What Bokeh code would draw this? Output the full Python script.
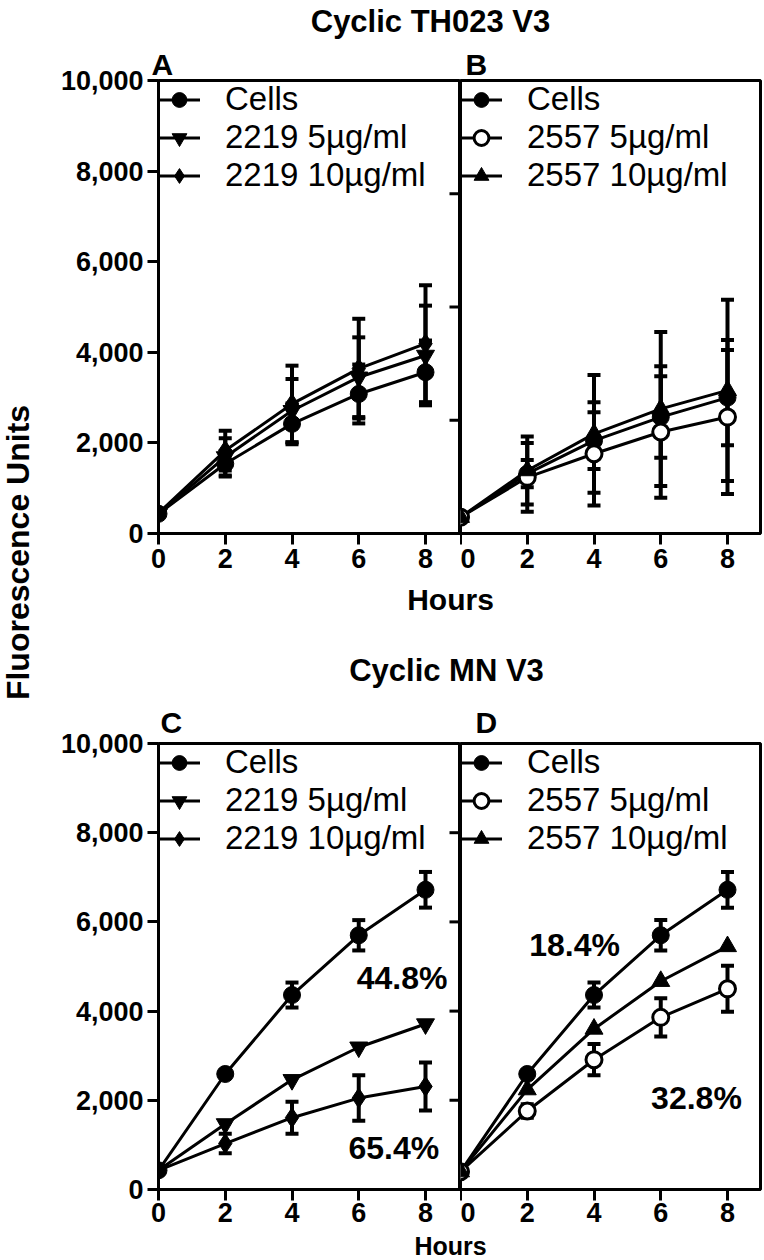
import math
from bokeh.plotting import figure
from bokeh.models import (Range1d, FixedTicker, NumeralTickFormatter, Legend, LegendItem,
                          Label, ColumnDataSource)
from bokeh.layouts import row, column
from bokeh.embed import file_html
from bokeh.resources import INLINE
from bokeh.core.properties import value

FONT = "Liberation Sans"

# ---------------- data ----------------
hours = [0, 2, 4, 6, 8]
y_ticks_left = [0, 2000, 4000, 6000, 8000, 10000]
y_ticks_b = [2500, 5000, 7500]
y_ticks_d = [2000, 4000, 6000, 8000]

# Panel A  (Cyclic TH023 V3)
a_cells = [435, 1540, 2420, 3080, 3560]
a_cells_err = [40, 280, 450, 650, 700]
a_2219_5 = [430, 1690, 2710, 3450, 3930]
a_2219_5_err = [40, 410, 700, 880, 1100]
a_2219_10 = [450, 1830, 2860, 3640, 4190]
a_2219_10_err = [40, 440, 845, 1100, 1290]

# Panel B  (Cyclic TH023 V3)
b_cells = [360, 1320, 2050, 2570, 3000]
b_cells_err = [40, 300, 625, 900, 1050]
b_2557_5 = [360, 1240, 1760, 2240, 2570]
b_2557_5_err = [40, 760, 1140, 1450, 1700]
b_2557_10 = [360, 1390, 2200, 2750, 3160]
b_2557_10_err = [40, 750, 1300, 1700, 2000]

# Panel C  (Cyclic MN V3)
c_cells = [430, 2590, 4360, 5700, 6720]
c_cells_err = [40, 60, 280, 340, 400]
c_2219_5 = [430, 1470, 2460, 3190, 3710]
c_2219_5_err = [0, 0, 0, 0, 0]
c_2219_10 = [430, 1030, 1610, 2050, 2310]
c_2219_10_err = [40, 220, 360, 510, 540]

# Panel D  (Cyclic MN V3)
d_cells = [400, 2590, 4360, 5700, 6720]
d_cells_err = [40, 60, 280, 340, 400]
d_2557_5 = [400, 1760, 2910, 3860, 4500]
d_2557_5_err = [40, 150, 350, 430, 515]
d_2557_10 = [400, 2240, 3600, 4670, 5450]
d_2557_10_err = [0, 0, 0, 0, 0]

labels_2219 = ["Cells", "2219 5\u00b5g/ml", "2219 10\u00b5g/ml"]
labels_2557 = ["Cells", "2557 5\u00b5g/ml", "2557 10\u00b5g/ml"]

# ---------------- geometry / style ----------------
FRAME_H = 453
TOP_B = 38
TICK_FS = "27px"
LEG_FS = "33px"
PX_PER_H = 33.375
TICK_LEN = 11


def style_axis(ax, ticks, standoff):
    ax.ticker = FixedTicker(ticks=ticks)
    ax.axis_line_width = 3
    ax.axis_line_color = "black"
    ax.major_tick_line_width = 3
    ax.major_tick_line_color = "black"
    ax.major_tick_out = TICK_LEN
    ax.major_tick_in = 0
    ax.minor_tick_out = 0
    ax.minor_tick_in = 0
    ax.major_label_text_font = FONT
    ax.major_label_text_font_style = "bold"
    ax.major_label_text_font_size = TICK_FS
    ax.major_label_text_color = "black"
    ax.major_label_standoff = standoff


def panel(width, lb, rb, bb, xend, letter, letter_off, letter_standoff, has_left, inner_ticks, xstand):
    p = figure(width=width, height=TOP_B + FRAME_H + bb,
               x_range=Range1d(0, xend), y_range=Range1d(0, 10000),
               min_border_left=lb, min_border_right=rb,
               min_border_top=TOP_B, min_border_bottom=bb,
               toolbar_location=None, output_backend="svg",
               y_axis_location="left" if has_left else None)
    p.xgrid.visible = False
    p.ygrid.visible = False
    p.outline_line_color = "black"
    p.outline_line_width = 3
    p.background_fill_color = "white"
    p.border_fill_color = "white"
    style_axis(p.xaxis[0], hours, xstand)
    if has_left:
        style_axis(p.yaxis[0], y_ticks_left, 4)
        p.yaxis[0].formatter = NumeralTickFormatter(format="0,0")
    if inner_ticks is not None:
        # tick marks of the neighbouring panel's axis, which point into this panel
        x1 = [xend] * len(inner_ticks)
        x0 = [xend - TICK_LEN / PX_PER_H] * len(inner_ticks)
        p.segment(x0=x0, y0=inner_ticks, x1=x1, y1=inner_ticks, line_width=3, line_color="black")
    p.title.text = letter
    p.title.text_font = FONT
    p.title.text_font_style = "bold"
    p.title.text_font_size = "30px"
    p.title.text_color = "black"
    p.title.align = "left"
    p.title.offset = letter_off
    p.title.standoff = letter_standoff
    return p


def add_series(p, ys, errs):
    lo = [y - e for y, e in zip(ys, errs)]
    hi = [y + e for y, e in zip(ys, errs)]
    ex = [h for h, e in zip(hours, errs) if e > 0]
    elo = [l for l, e in zip(lo, errs) if e > 0]
    ehi = [h for h, e in zip(hi, errs) if e > 0]
    p.segment(x0=ex, y0=elo, x1=ex, y1=ehi, line_width=4, line_color="black")
    p.scatter(x=ex + ex, y=elo + ehi, marker="dash", size=13, line_width=4, line_color="black")
    return p.line(x=hours, y=ys, line_width=3, line_color="black")


def add_markers(p, ys, marker, fill, size):
    return p.scatter(x=hours, y=ys, marker=marker, size=size, fill_color=fill,
                     line_color="black", line_width=3 if fill == "white" else 1)


def build(p, series, labels):
    lines = [add_series(p, ys, errs) for ys, errs, marker, fill, size in series]
    marks = [add_markers(p, ys, marker, fill, size) for ys, errs, marker, fill, size in series]
    items = [LegendItem(label=lab, renderers=[l, m]) for lab, l, m in zip(labels, lines, marks)]
    leg = Legend(items=items, location="top_left", label_text_font=FONT,
                 label_text_font_size=LEG_FS, label_text_color="black",
                 glyph_width=42, glyph_height=37, label_height=37, label_standoff=25,
                 spacing=0, padding=6, margin=0, border_line_color=None,
                 background_fill_alpha=0)
    p.add_layout(leg)


def pct(p, x, y, txt):
    p.add_layout(Label(x=x, y=y, text=txt, text_align="center", text_baseline="middle",
                       text_font=FONT, text_font_style="bold", text_font_size="32px",
                       text_color="black"))


def header(width, height, top, texts):
    h = figure(width=width, height=height, x_range=Range1d(0, width), y_range=Range1d(height, 0),
               min_border=0, toolbar_location=None, output_backend="svg",
               x_axis_location=None, y_axis_location=None)
    h.xgrid.visible = False
    h.ygrid.visible = False
    h.outline_line_color = None
    src = ColumnDataSource(dict(x=[t[0] for t in texts], y=[t[1] - top for t in texts],
                                t=[t[2] for t in texts], s=[t[3] for t in texts]))
    h.text(x="x", y="y", text="t", source=src, text_font=value(FONT), text_font_style="bold",
           text_font_size="s", text_align="center", text_baseline="middle", text_color="black")
    return h


# ---------------- layout (page starts at x=0, y=0) ----------------
STRIP_W = 44
A_LB = 158 - STRIP_W          # frame of A starts at page x 158
A_FRAME = 302                 # A frame 158..460
A_W = A_LB + A_FRAME
B_RB = 2
B_FRAME = 300                 # B frame 460..760
B_W = B_FRAME + B_RB
xa_end = A_FRAME / PX_PER_H
xb_end = B_FRAME / PX_PER_H
RIGHT_W = A_W + B_W
OX = STRIP_W

H1 = 42
AB_BB = 47
H2_TOP = H1 + TOP_B + FRAME_H + AB_BB          # 580
H2 = 736 - TOP_B - H2_TOP                       # so that C frame top is at 736
CD_BB = 43
FOOT_TOP = 736 + FRAME_H + CD_BB               # 1232
TOTAL_H = 1259
FOOT = TOTAL_H - FOOT_TOP

pA = panel(A_W, A_LB, 0, AB_BB, xa_end, "A", -7, 0, True, y_ticks_b, 4)
pB = panel(B_W, 0, B_RB, AB_BB, xb_end, "B", 5, 0, False, None, 4)
pC = panel(A_W, A_LB, 0, CD_BB, xa_end, "C", 2, 10, True, y_ticks_d, 2)
pD = panel(B_W, 0, B_RB, CD_BB, xb_end, "D", 15, 10, False, None, 2)

build(pA, [(a_cells, a_cells_err, "circle", "black", 17),
           (a_2219_5, a_2219_5_err, "inverted_triangle", "black", 18),
           (a_2219_10, a_2219_10_err, "diamond", "black", 20)], labels_2219)
build(pB, [(b_cells, b_cells_err, "circle", "black", 17),
           (b_2557_5, b_2557_5_err, "circle", "white", 16),
           (b_2557_10, b_2557_10_err, "triangle", "black", 18)], labels_2557)
build(pC, [(c_cells, c_cells_err, "circle", "black", 17),
           (c_2219_5, c_2219_5_err, "inverted_triangle", "black", 18),
           (c_2219_10, c_2219_10_err, "diamond", "black", 20)], labels_2219)
build(pD, [(d_cells, d_cells_err, "circle", "black", 17),
           (d_2557_5, d_2557_5_err, "circle", "white", 16),
           (d_2557_10, d_2557_10_err, "triangle", "black", 18)], labels_2557)

pct(pC, 7.3, 4750, "44.8%")
pct(pC, 7.05, 920, "65.4%")
pct(pD, 3.42, 5480, "18.4%")
pct(pD, 7.07, 2060, "32.8%")

h1 = header(RIGHT_W, H1, 0, [(430 - OX, 21, "Cyclic TH023 V3", "31px")])
h2 = header(RIGHT_W, H2, H2_TOP, [(450 - OX, 599, "Hours", "30px"),
                                  (446 - OX, 670, "Cyclic MN V3", "31px")])
h3 = header(RIGHT_W, FOOT, FOOT_TOP, [(450 - OX, 1245.5, "Hours", "25px")])

strip = figure(width=STRIP_W, height=TOTAL_H, x_range=Range1d(0, STRIP_W), y_range=Range1d(TOTAL_H, 0),
               min_border=0, toolbar_location=None, output_backend="svg",
               x_axis_location=None, y_axis_location=None)
strip.xgrid.visible = False
strip.ygrid.visible = False
strip.outline_line_color = None
strip.text(x=[17], y=[552], text=["Fluorescence Units"], angle=math.pi / 2,
           text_font=value(FONT), text_font_style="bold", text_font_size="32px",
           text_align="center", text_baseline="middle", text_color="black")

layout = row(strip, column(h1, row(pA, pB), h2, row(pC, pD), h3))

open("out.html", "w").write(file_html(layout, INLINE))
